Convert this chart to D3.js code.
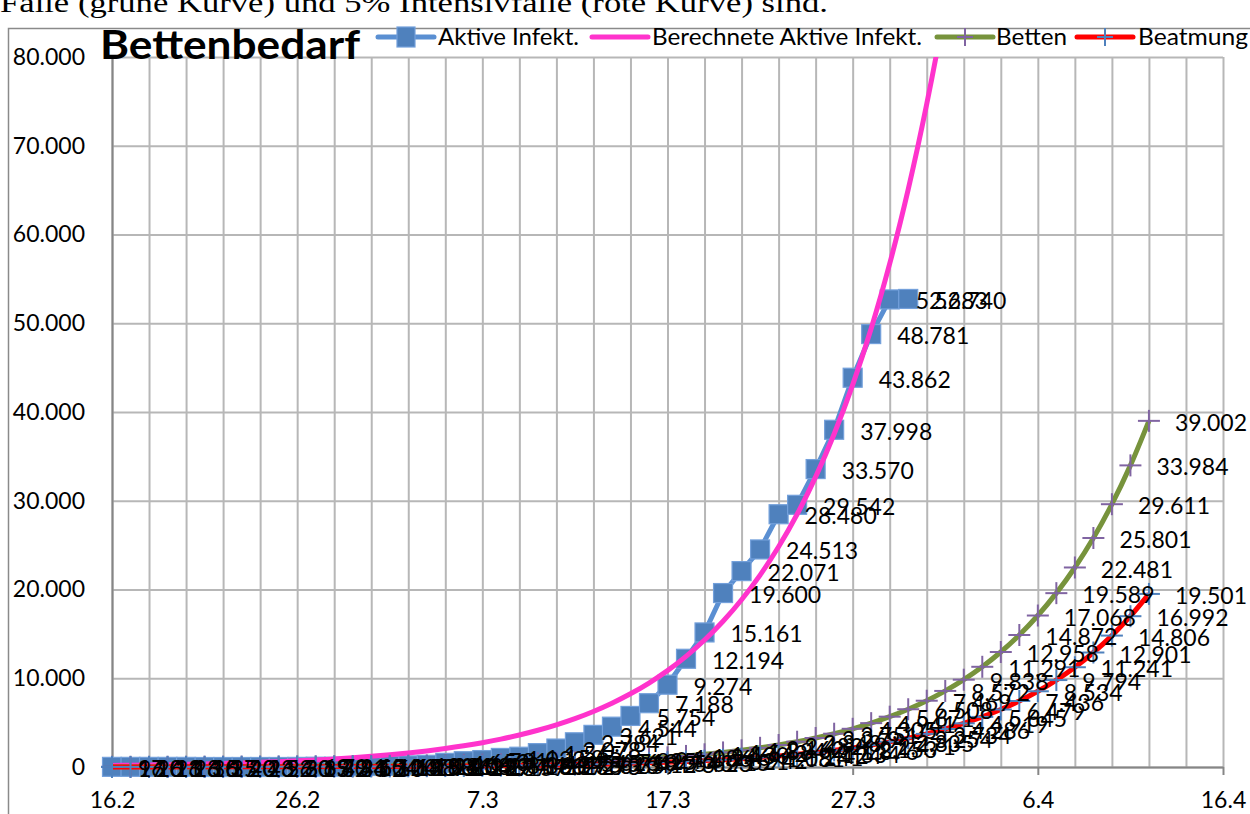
<!DOCTYPE html>
<html>
<head>
<meta charset="utf-8">
<script src="https://cdn.jsdelivr.net/npm/d3@7"></script>
<style>
  html, body { margin: 0; padding: 0; background: #fff; overflow: hidden; }
  svg { display: block; }
</style>
</head>
<body>
<svg id="chart" width="1250" height="814"></svg>
<script>
// ---- Daten ----
const categories = [
  "16.2","17.2","18.2","19.2","20.2","21.2","22.2","23.2","24.2","25.2",
  "26.2","27.2","28.2","29.2","1.3","2.3","3.3","4.3","5.3","6.3",
  "7.3","8.3","9.3","10.3","11.3","12.3","13.3","14.3","15.3","16.3",
  "17.3","18.3","19.3","20.3","21.3","22.3","23.3","24.3","25.3","26.3",
  "27.3","28.3","29.3","30.3","31.3","1.4","2.4","3.4","4.4","5.4",
  "6.4","7.4","8.4","9.4","10.4","11.4","12.4","13.4","14.4","15.4",
  "16.4"
];

const seriesNames = ["Aktive Infekt.", "Berechnete Aktive Infekt.", "Betten", "Beatmung"];

const aktiveInfekt = [
  16, 16, 16, 16, 16, 2, 2, 2, 2, 2,
  13, 32, 34, 65, 114, 143, 180, 246, 466, 653,
  781, 1022, 1158, 1565, 2078, 2784, 3621, 4544, 5754, 7188,
  9274, 12194, 15161, 19600, 22071, 24513, 28480, 29542, 33570, 37998,
  43862, 48781, 52683, 52740
];

const berechneteInfekt = [
  174, 200, 229, 263, 302, 347, 398, 457, 525, 602,
  691, 793, 910, 1045, 1199, 1376, 1579, 1812, 2080, 2387,
  2739, 3144, 3608, 4141, 4753, 5455, 6260, 7185, 8246, 9464,
  10861, 12465, 14305, 16418, 18842, 21624, 24817, 28482, 32688, 37515,
  43054, 49412, 56708, 65081, 74691, 85721, 98380, 112910, 129580, 148720,
  170680, 195890, 224810, 258010, 296110, 339840, 390020
];

const betten = [
  17, 20, 23, 26, 30, 35, 40, 46, 52, 60,
  69, 79, 91, 104, 120, 138, 158, 181, 208, 239,
  274, 314, 361, 414, 475, 545, 626, 718, 825, 946,
  1086, 1246, 1430, 1642, 1884, 2162, 2482, 2848, 3269, 3751,
  4305, 4941, 5671, 6508, 7469, 8572, 9838, 11291, 12958, 14872,
  17068, 19589, 22481, 25801, 29611, 33984, 39002
];

const beatmung = [
  9, 10, 11, 13, 15, 17, 20, 23, 26, 30,
  35, 40, 46, 52, 60, 69, 79, 91, 104, 119,
  137, 157, 180, 207, 238, 273, 313, 359, 412, 473,
  543, 623, 715, 821, 942, 1081, 1241, 1424, 1634, 1876,
  2153, 2471, 2835, 3254, 3734, 4286, 4919, 5645, 6479, 7436,
  8534, 9794, 11241, 12901, 14806, 16992, 19501
];

const yTickValues = [0, 10000, 20000, 30000, 40000, 50000, 60000, 70000, 80000];
const xTickLabels = ["16.2", "26.2", "7.3", "17.3", "27.3", "6.4", "16.4"];

const titleText = "Bettenbedarf";
const headerText = "Fälle (grüne Kurve) und 5% Intensivfälle (rote Kurve) sind.";

// ---- Layout ----
const W = 1250, H = 814;
const plot = { left: 112, right: 1223, top: 57, bottom: 767 };
const FONT = "Lato, 'Open Sans', 'DejaVu Sans', sans-serif";
const FS = 23;

const x = d3.scaleLinear().domain([0, categories.length - 1]).range([plot.left, plot.right]);
const y = d3.scaleLinear().domain([0, 80000]).range([plot.bottom, plot.top]);
const de = d3.formatLocale({ decimal: ",", thousands: ".", grouping: [3], currency: ["", " €"] });
const fmt = de.format(",d");

const svg = d3.select("#chart");

svg.append("defs").append("clipPath").attr("id", "plotClip")
  .append("rect").attr("x", 0).attr("y", plot.top).attr("width", W).attr("height", H - plot.top);

// Textzeile über dem Diagramm
svg.append("text")
  .attr("x", 0).attr("y", 12)
  .attr("font-family", "'Liberation Serif', 'Times New Roman', serif")
  .attr("font-size", 27)
  .attr("textLength", 828).attr("lengthAdjust", "spacingAndGlyphs")
  .text(headerText);

// Diagrammrahmen
svg.append("rect")
  .attr("x", 8.5).attr("y", 28.5).attr("width", 1300).attr("height", 900)
  .attr("fill", "#fff").attr("stroke", "#8a8a8a").attr("stroke-width", 1.5);

// Gitternetz senkrecht (alle 2 Tage)
const gridX = svg.append("g")
  .attr("transform", `translate(0,${plot.bottom})`)
  .call(d3.axisBottom(x).tickValues(d3.range(0, categories.length, 2))
    .tickSize(-(plot.bottom - plot.top)).tickFormat(""));
gridX.select(".domain").remove();
gridX.selectAll("line").attr("stroke", "#b7b7b7").attr("stroke-width", 2);

// Gitternetz waagerecht
const gridY = svg.append("g")
  .attr("transform", `translate(${plot.left},0)`)
  .call(d3.axisLeft(y).tickValues(yTickValues)
    .tickSize(-(plot.right - plot.left)).tickFormat(""));
gridY.select(".domain").remove();
gridY.selectAll("line").attr("stroke", "#b7b7b7").attr("stroke-width", 2);

// Achsen
const xAxis = svg.append("g")
  .attr("transform", `translate(0,${plot.bottom})`)
  .call(d3.axisBottom(x).tickValues(d3.range(0, categories.length, 10))
    .tickSize(8).tickSizeOuter(0).tickPadding(17)
    .tickFormat((d, i) => xTickLabels[i]));
xAxis.select(".domain").attr("stroke", "#868686").attr("stroke-width", 2);
xAxis.selectAll(".tick line").attr("stroke", "#868686").attr("stroke-width", 2);
xAxis.selectAll("text").attr("font-family", FONT).attr("font-size", FS).attr("fill", "#000");

const yAxis = svg.append("g")
  .attr("transform", `translate(${plot.left},0)`)
  .call(d3.axisLeft(y).tickValues(yTickValues)
    .tickSize(0).tickSizeOuter(0).tickPadding(27).tickFormat(fmt));
yAxis.select(".domain").attr("stroke", "#868686").attr("stroke-width", 2);
yAxis.selectAll("text").attr("font-family", FONT).attr("font-size", FS).attr("fill", "#000");

// ---- Reihen ----
const lineStraight = d3.line().x((d, i) => x(i)).y(d => y(d));
const lineSmooth = d3.line().x((d, i) => x(i)).y(d => y(d)).curve(d3.curveCatmullRom.alpha(0.5));

const COL = {
  aktivLine: "#5a8fd2", aktivFill: "#4f81bd", aktivStroke: "#73a0db",
  berechnet: "#ff33cc",
  betten: "#77933c", bettenMark: "#8064a2",
  beatmung: "#ff0000", beatmungMark: "#4f81bd"
};
const SQ = 19, PL = 11;

function plus(g, data, color) {
  const p = g.selectAll(null).data(data).enter().append("g")
    .attr("transform", (d, i) => `translate(${x(i)},${y(d)})`);
  p.append("line").attr("x1", -PL).attr("x2", PL).attr("y1", 0).attr("y2", 0)
    .attr("stroke", color).attr("stroke-width", 2);
  p.append("line").attr("x1", 0).attr("x2", 0).attr("y1", -PL).attr("y2", PL)
    .attr("stroke", color).attr("stroke-width", 2);
}

// Aktive Infekt.
const gA = svg.append("g");
gA.append("path").datum(aktiveInfekt).attr("d", lineStraight)
  .attr("fill", "none").attr("stroke", COL.aktivLine).attr("stroke-width", 5)
  .attr("stroke-linejoin", "round").attr("clip-path", "url(#plotClip)");
gA.selectAll("rect").data(aktiveInfekt).enter().append("rect")
  .attr("x", (d, i) => x(i) - SQ / 2).attr("y", d => y(d) - SQ / 2)
  .attr("width", SQ).attr("height", SQ)
  .attr("fill", COL.aktivFill).attr("stroke", COL.aktivStroke).attr("stroke-width", 1.2);

// Berechnete Aktive Infekt.
svg.append("path").datum(berechneteInfekt).attr("d", lineSmooth)
  .attr("clip-path", "url(#plotClip)")
  .attr("fill", "none").attr("stroke", COL.berechnet).attr("stroke-width", 5);

// Betten
const gB = svg.append("g");
gB.append("path").datum(betten).attr("d", lineSmooth)
  .attr("clip-path", "url(#plotClip)")
  .attr("fill", "none").attr("stroke", COL.betten).attr("stroke-width", 5);
plus(gB, betten, COL.bettenMark);

// Beatmung
const gV = svg.append("g");
gV.append("path").datum(beatmung).attr("d", lineSmooth)
  .attr("clip-path", "url(#plotClip)")
  .attr("fill", "none").attr("stroke", COL.beatmung).attr("stroke-width", 5);
plus(gV, beatmung, COL.beatmungMark);

// Datenbeschriftungen (rechts vom Punkt)
const labels = svg.append("g").attr("font-family", FONT).attr("font-size", FS).attr("fill", "#000");
[aktiveInfekt, betten, beatmung].forEach(series => {
  labels.selectAll(null).data(series).enter().append("text")
    .attr("x", (d, i) => x(i) + 26)
    .attr("y", d => y(d) + 2)
    .attr("dy", "0.35em")
    .text(d => fmt(d));
});

// Titel
svg.append("text")
  .attr("x", 100).attr("y", 59)
  .attr("font-family", FONT).attr("font-weight", 700).attr("font-size", 40)
  .attr("textLength", 260).attr("lengthAdjust", "spacingAndGlyphs")
  .attr("fill", "#000")
  .text(titleText);

// Legende
const legend = svg.append("g").attr("font-family", FONT).attr("font-size", FS);
const legendItems = [
  { name: seriesNames[0], x0: 378, tx: 438, tw: 141, line: COL.aktivLine, mark: "square" },
  { name: seriesNames[1], x0: 592, tx: 652, tw: 270, line: COL.berechnet, mark: null },
  { name: seriesNames[2], x0: 937, tx: 996, tw: 71, line: COL.betten, mark: COL.bettenMark },
  { name: seriesNames[3], x0: 1077, tx: 1138, tw: 110, line: COL.beatmung, mark: COL.beatmungMark }
];
const LY = 37;
legendItems.forEach(it => {
  legend.append("line").attr("x1", it.x0).attr("x2", it.x0 + 56).attr("y1", LY).attr("y2", LY)
    .attr("stroke", it.line).attr("stroke-width", 5).attr("stroke-linecap", "round");
  const cx = it.x0 + 28;
  if (it.mark === "square") {
    legend.append("rect").attr("x", cx - 9).attr("y", LY - 10).attr("width", 18).attr("height", 20)
      .attr("fill", COL.aktivFill).attr("stroke", COL.aktivStroke).attr("stroke-width", 1.2);
  } else if (it.mark) {
    legend.append("line").attr("x1", cx - 8).attr("x2", cx + 8).attr("y1", LY).attr("y2", LY)
      .attr("stroke", it.mark).attr("stroke-width", 2);
    legend.append("line").attr("x1", cx).attr("x2", cx).attr("y1", LY - 9).attr("y2", LY + 9)
      .attr("stroke", it.mark).attr("stroke-width", 2);
  }
  legend.append("text").attr("x", it.tx).attr("y", LY).attr("dy", "0.35em")
    .attr("textLength", it.tw).attr("lengthAdjust", "spacingAndGlyphs")
    .text(it.name);
});
</script>
</body>
</html>
